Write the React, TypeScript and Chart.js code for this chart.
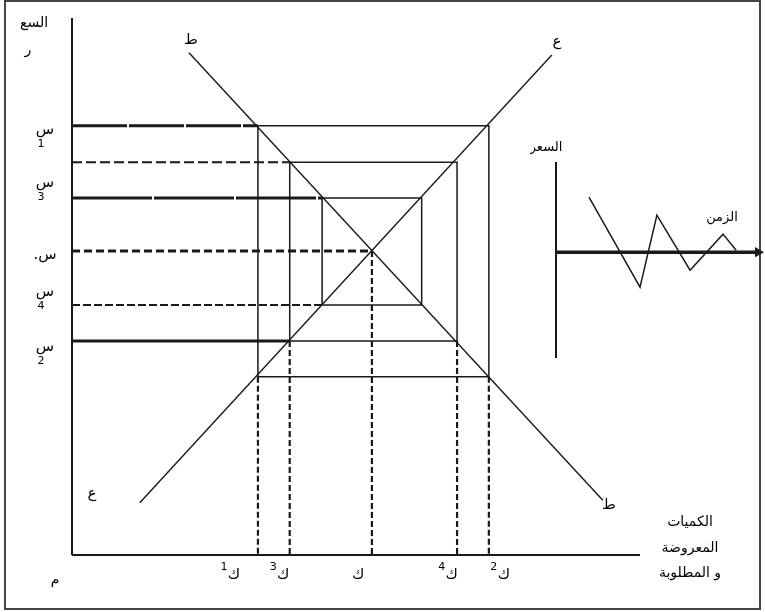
import React, { useEffect, useRef } from "react";
import { Chart, registerables } from "chart.js";
Chart.register(...registerables);

// ---------- Main cobweb diagram (quantity on x, price on y) ----------
const xMax = 9.47;
const yMax = 8.83;
const eqQ = 5;
const eqP = 5;
const demandQ = [1.95, 8.85];
const demandP = [8.26, 0.9];
const supplyQ = [1.13, 8.0];
const supplyP = [0.86, 8.22];
// cobweb rectangles, outer to inner
const boxQLow = [3.1, 3.63, 4.17];
const boxQHigh = [6.95, 6.42, 5.83];
const boxPHigh = [7.06, 6.46, 5.87];
const boxPLow = [2.93, 3.52, 4.11];
// horizontal guides from price axis
const guideP = [7.06, 6.46, 5.87, eqP, 4.11, 3.52];
const guideQ = [3.1, 3.63, 4.17, eqQ, 4.17, 3.63];
// vertical drops to the quantity axis
const dropQ = [3.1, 3.63, eqQ, 6.42, 6.95];
const dropP = [2.93, 3.52, eqP, 3.52, 2.93];
// tick-like labels
const priceSym = ["س", "س", ".س", "س", "س"];
const priceSub = ["1", "3", "", "4", "2"];
const priceLabelP = [6.99, 6.12, 4.93, 4.33, 3.42];
const qtySym = ["ك", "ك", "ك", "ك", "ك"];
const qtySub = ["1", "3", "", "4", "2"];
const qtyLabelQ = [2.7, 3.52, 4.77, 6.33, 7.2];

// ---------- Inset: price over time ----------
const timeX = [1.64, 4.18, 5.02, 6.67, 8.31, 8.96];
const timeP = [2.81, -1.79, 1.89, -0.92, 0.92, 0.1];

// styles (kept separate from data)
const guideWidth = [3, 2, 3, 3, 2, 3];
const guideDash: number[][] = [[55, 2], [10, 4], [80, 2], [8, 4], [8, 3], []];
const INK = "#1a1a1a";
const FONT = "'DejaVu Sans', 'Noto Sans', sans-serif";

const seg = (xs: number[], ys: number[], width: number, dash: number[] = []) => ({
  data: xs.map((v, i) => ({ x: v, y: ys[i] })),
  showLine: true,
  borderColor: INK,
  backgroundColor: INK,
  borderWidth: width,
  borderDash: dash,
  pointRadius: 0,
  clip: false as any,
  tension: 0,
  fill: false,
});

const mainLabels = {
  id: "mainLabels",
  afterDraw(chart: any) {
    const { ctx } = chart;
    const x = chart.scales.x;
    const y = chart.scales.y;
    ctx.save();
    // outer frame
    ctx.strokeStyle = "#444";
    ctx.lineWidth = 2;
    ctx.strokeRect(5, 1, 755, 608);
    ctx.fillStyle = "#000";
    ctx.textAlign = "center";
    ctx.textBaseline = "middle";
    // price labels
    priceLabelP.forEach((p, i) => {
      const py = y.getPixelForValue(p);
      ctx.font = "15px " + FONT;
      ctx.fillText(priceSym[i], 45, py);
      if (priceSub[i]) {
        ctx.font = "11px " + FONT;
        ctx.fillText(priceSub[i], 41, py + 14);
      }
    });
    // quantity labels
    qtyLabelQ.forEach((q, i) => {
      const px = x.getPixelForValue(q);
      ctx.font = "15px " + FONT;
      ctx.fillText(qtySym[i], px, 575);
      if (qtySub[i]) {
        ctx.font = "11px " + FONT;
        ctx.fillText(qtySub[i], px - 10, 567);
      }
    });
    ctx.font = "14px " + FONT;
    // axis titles
    ctx.fillText("السع", 34, 23);
    ctx.fillText("ر", 28, 50);
    ctx.fillText("م", 55, 580);
    ctx.fillText("الكميات", 690, 522);
    ctx.fillText("المعروضة", 690, 548);
    ctx.fillText("و المطلوبة", 690, 573);
    // curve names
    ctx.font = "15px " + FONT;
    ctx.fillText("ط", 191, 40);
    ctx.fillText("ع", 557, 42);
    ctx.fillText("ع", 92, 494);
    ctx.fillText("ط", 609, 505);
    ctx.restore();
  },
};

const insetLabels = {
  id: "insetLabels",
  afterDraw(chart: any) {
    const { ctx } = chart;
    ctx.save();
    ctx.fillStyle = "#000";
    ctx.textAlign = "center";
    ctx.textBaseline = "middle";
    ctx.font = "13px " + FONT;
    ctx.fillText("السعر", 16, 28);
    ctx.fillText("الزمن", 192, 98);
    ctx.restore();
  },
};

export default function App() {
  const mainRef = useRef<HTMLCanvasElement>(null);
  const insetRef = useRef<HTMLCanvasElement>(null);

  useEffect(() => {
    const datasets: any[] = [];
    datasets.push(seg([0, 0], [0, yMax], 2));
    datasets.push(seg([0, xMax], [0, 0], 2));
    datasets.push(seg(demandQ, demandP, 1.4));
    datasets.push(seg(supplyQ, supplyP, 1.4));
    boxQLow.forEach((ql, i) => {
      const qh = boxQHigh[i];
      const ph = boxPHigh[i];
      const pl = boxPLow[i];
      datasets.push(seg([ql, qh, qh, ql, ql], [ph, ph, pl, pl, ph], 1.5));
    });
    guideP.forEach((p, i) => {
      datasets.push(seg([0, guideQ[i]], [p, p], guideWidth[i], guideDash[i]));
    });
    dropQ.forEach((q, i) => {
      datasets.push(seg([q, q], [dropP[i], 0], 2.2, [6, 3]));
    });

    const main = new Chart(mainRef.current!, {
      type: "scatter",
      data: { datasets },
      options: {
        responsive: false,
        animation: false,
        layout: { padding: { left: 72, top: 18, right: 125, bottom: 57 } },
        scales: {
          x: { type: "linear", min: 0, max: xMax, display: false },
          y: { type: "linear", min: 0, max: yMax, display: false },
        },
        plugins: { legend: { display: false }, tooltip: { enabled: false } },
        events: [],
      },
      plugins: [mainLabels],
    });

    const arrow = {
      data: [{ x: 10.05, y: 0 }],
      showLine: false,
      pointStyle: "triangle",
      pointRadius: 6,
      pointRotation: 90,
      pointBackgroundColor: INK,
      pointBorderColor: INK,
      borderWidth: 0,
      clip: false as any,
    };
    const inset = new Chart(insetRef.current!, {
      type: "scatter",
      data: {
        datasets: [
          seg([0, 0], [-5.4, 4.6], 2),
          seg([0, 10.0], [0, 0], 3.5),
          arrow,
          seg(timeX, timeP, 1.5),
        ] as any,
      },
      options: {
        responsive: false,
        animation: false,
        layout: { padding: { left: 26, top: 42, right: 8, bottom: 12 } },
        scales: {
          x: { type: "linear", min: 0, max: 10, display: false },
          y: { type: "linear", min: -5.4, max: 4.6, display: false },
        },
        plugins: { legend: { display: false }, tooltip: { enabled: false } },
        events: [],
      },
      plugins: [insetLabels],
    });

    return () => {
      main.destroy();
      inset.destroy();
    };
  }, []);

  return (
    <div style={{ position: "fixed", left: 0, top: 0, width: 765, height: 612, background: "#fff" }}>
      <canvas ref={mainRef} width={765} height={612} style={{ position: "absolute", left: 0, top: 0 }} />
      <canvas ref={insetRef} width={235} height={250} style={{ position: "absolute", left: 530, top: 120 }} />
    </div>
  );
}
